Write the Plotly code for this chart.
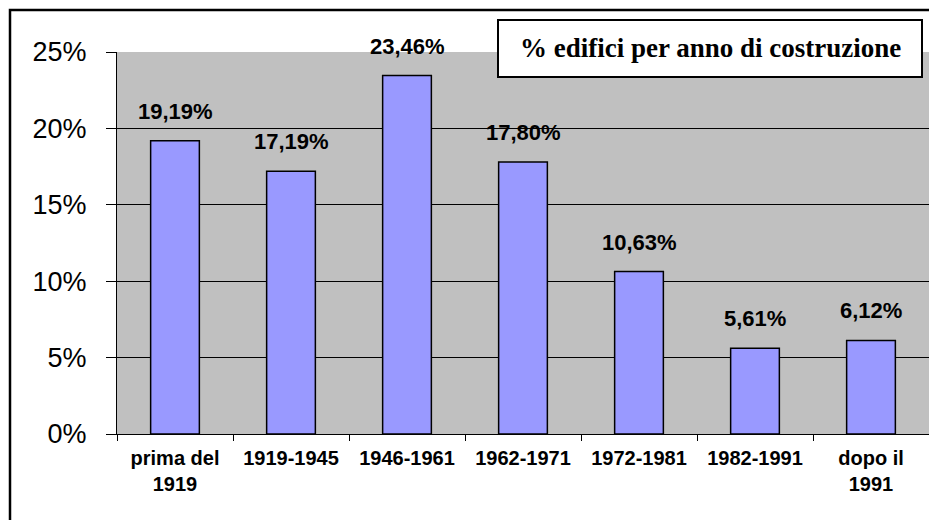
import plotly.graph_objects as go

# quota di edifici per periodo di costruzione (%)
periods = ["prima del<br>1919", "1919-1945", "1946-1961", "1962-1971",
           "1972-1981", "1982-1991", "dopo il<br>1991"]
shares = [19.19, 17.19, 23.46, 17.80, 10.63, 5.61, 6.12]
y_ticks = [0, 5, 10, 15, 20, 25]
title_text = "% edifici per anno di costruzione"

# la pagina ha un margine di 8px intorno al grafico
OFF = 8
W, H = 937 - 2 * OFF, 528 - 2 * OFF
L, R, T, B = 117 - OFF, 0, 52 - OFF, 528 - 434 - OFF
pw, ph = W - L - R, H - T - B


def px_x(x):
    return (x - OFF - L) / pw


def px_y(y):
    return 1 - (y - OFF - T) / ph


fig = go.Figure()
fig.add_trace(go.Bar(
    x=periods, y=shares,
    marker=dict(color="#9999FF", line=dict(color="black", width=1.5)),
    width=0.42,
))

for p, v in zip(periods, shares):
    fig.add_annotation(
        x=p, y=v, text="<b>{:.2f}%</b>".format(v).replace(".", ","),
        showarrow=False, yanchor="bottom", yshift=15,
        font=dict(family="Liberation Sans", size=22, color="black"),
    )

# cornice esterna
fig.add_shape(type="rect", xref="paper", yref="paper",
              x0=px_x(10), x1=px_x(960), y0=px_y(560), y1=px_y(10),
              line=dict(color="black", width=2.5), fillcolor="rgba(0,0,0,0)",
              layer="above")
# riquadro del titolo
fig.add_shape(type="rect", xref="paper", yref="paper",
              x0=px_x(498), x1=px_x(922), y0=px_y(77), y1=px_y(20),
              line=dict(color="black", width=2), fillcolor="white",
              layer="above")
fig.add_annotation(
    xref="paper", yref="paper", x=(px_x(498) + px_x(922)) / 2,
    y=(px_y(77) + px_y(20)) / 2, text="<b>" + title_text + "</b>",
    showarrow=False, xanchor="center", yanchor="middle",
    font=dict(family="Liberation Serif", size=27, color="black"),
)

fig.update_layout(
    width=W, height=H,
    margin=dict(l=L, r=R, t=T, b=B),
    paper_bgcolor="white", plot_bgcolor="#C0C0C0",
    showlegend=False, bargap=0.58,
)
fig.update_xaxes(
    tickson="boundaries", ticks="outside", ticklen=6, tickcolor="black",
    showline=True, linecolor="black", linewidth=1, showgrid=False,
    tickfont=dict(family="Liberation Sans", size=20, color="black"),
    ticklabelstandoff=6,
    tickvals=periods, ticktext=["<b>" + p + "</b>" for p in periods],
)
fig.update_yaxes(
    range=[0, 25], tickvals=y_ticks, ticktext=["{}%".format(v) for v in y_ticks],
    ticks="outside", ticklen=10, tickcolor="black",
    showline=True, linecolor="black", linewidth=1,
    showgrid=True, gridcolor="black", gridwidth=1, zeroline=False,
    tickfont=dict(family="Liberation Sans", size=27, color="black"),
    ticklabelstandoff=14,
)

fig.write_html("out.html")
